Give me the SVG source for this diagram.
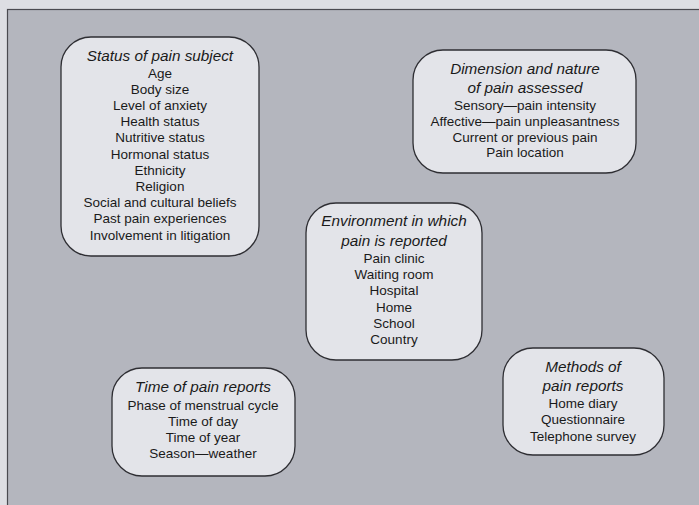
<svg xmlns="http://www.w3.org/2000/svg" width="699" height="505" viewBox="0 0 699 505">
<style>
.box{fill:#e3e4e9;stroke:#2e2e33;stroke-width:1.3}
.t{font-family:"Liberation Sans",Arial,sans-serif;font-size:15.3px;font-style:italic;fill:#1a1a1a;text-anchor:middle}
.b{font-family:"Liberation Sans",Arial,sans-serif;font-size:13.5px;fill:#1a1a1a;text-anchor:middle}
</style>
<rect x="0" y="0" width="699" height="505" fill="#dddee3"/>
<rect x="7.5" y="9.5" width="700" height="505" fill="#b4b6be" stroke="#4a4a50" stroke-width="1.2"/>
<g id="connectors"/>
<g id="status">
<rect class="box" x="61" y="37" width="198" height="219" rx="30" ry="30"/>
<text class="t" x="160" y="61">Status of pain subject</text>
<text class="b" x="160" y="78">Age</text>
<text class="b" x="160" y="94">Body size</text>
<text class="b" x="160" y="110">Level of anxiety</text>
<text class="b" x="160" y="126">Health status</text>
<text class="b" x="160" y="142">Nutritive status</text>
<text class="b" x="160" y="159">Hormonal status</text>
<text class="b" x="160" y="175">Ethnicity</text>
<text class="b" x="160" y="191">Religion</text>
<text class="b" x="160" y="207">Social and cultural beliefs</text>
<text class="b" x="160" y="223">Past pain experiences</text>
<text class="b" x="160" y="240">Involvement in litigation</text>
</g>
<g id="dimension">
<rect class="box" x="413" y="50" width="223" height="123" rx="30" ry="30"/>
<text class="t" x="525" y="74">Dimension and nature</text>
<text class="t" x="525" y="93">of pain assessed</text>
<text class="b" x="525" y="110">Sensory—pain intensity</text>
<text class="b" x="525" y="126">Affective—pain unpleasantness</text>
<text class="b" x="525" y="142">Current or previous pain</text>
<text class="b" x="525" y="157">Pain location</text>
</g>
<g id="environment">
<rect class="box" x="306" y="203" width="176" height="157" rx="30" ry="30"/>
<text class="t" x="394" y="226">Environment in which</text>
<text class="t" x="394" y="246">pain is reported</text>
<text class="b" x="394" y="263">Pain clinic</text>
<text class="b" x="394" y="279">Waiting room</text>
<text class="b" x="394" y="295">Hospital</text>
<text class="b" x="394" y="312">Home</text>
<text class="b" x="394" y="328">School</text>
<text class="b" x="394" y="344">Country</text>
</g>
<g id="time">
<rect class="box" x="112" y="368" width="183" height="108" rx="30" ry="30"/>
<text class="t" x="203" y="392">Time of pain reports</text>
<text class="b" x="203" y="410">Phase of menstrual cycle</text>
<text class="b" x="203" y="426">Time of day</text>
<text class="b" x="203" y="442">Time of year</text>
<text class="b" x="203" y="458">Season—weather</text>
</g>
<g id="methods">
<rect class="box" x="503" y="348" width="161" height="107" rx="30" ry="30"/>
<text class="t" x="583" y="372">Methods of</text>
<text class="t" x="583" y="391">pain reports</text>
<text class="b" x="583" y="408">Home diary</text>
<text class="b" x="583" y="424">Questionnaire</text>
<text class="b" x="583" y="441">Telephone survey</text>
</g>
</svg>
